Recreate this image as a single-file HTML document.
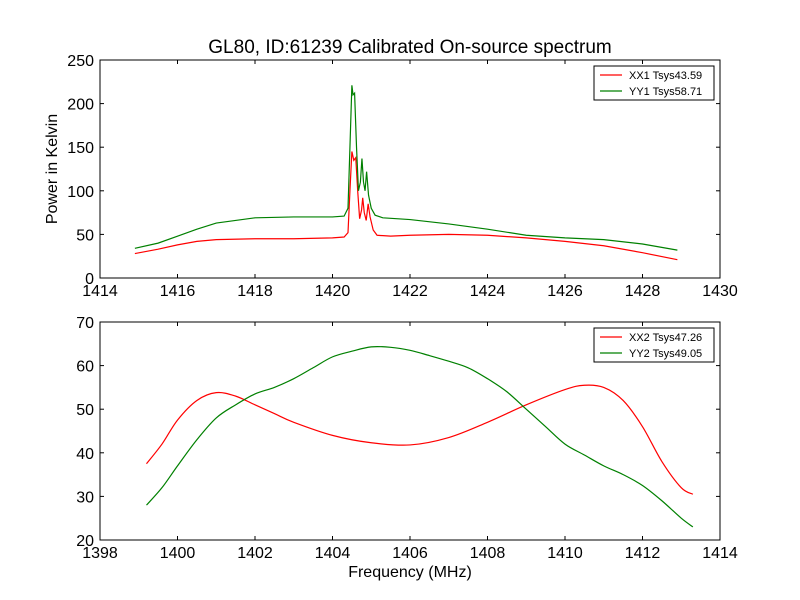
<!DOCTYPE html>
<html><head><meta charset="utf-8"><style>
body{margin:0;background:#fff;}
svg{display:block;font-family:"Liberation Sans",sans-serif;}
</style></head><body>
<svg id="chart" width="800" height="600" viewBox="0 0 800 600"></svg>
<script>
const xx1Freq=[1414.9,1415.5,1416,1416.5,1417,1418,1419,1420,1420.3,1420.4,1420.45,1420.5,1420.55,1420.6,1420.65,1420.7,1420.75,1420.78,1420.82,1420.87,1420.92,1420.97,1421.05,1421.15,1421.5,1422,1423,1424,1425,1426,1427,1428,1428.9];
const xx1Vals=[28,33,38,42,44,45,45,46,47,52,100,145,135,138,100,68,78,92,75,66,85,70,55,49,48,49,50,49,46,42,37,29,21];
const yy1Freq=[1414.9,1415.5,1416,1416.5,1417,1418,1419,1420,1420.3,1420.4,1420.45,1420.5,1420.53,1420.57,1420.62,1420.67,1420.72,1420.76,1420.8,1420.84,1420.88,1420.93,1421,1421.1,1421.3,1422,1423,1424,1425,1426,1427,1428,1428.9];
const yy1Vals=[34,40,48,56,63,69,70,70,71,80,150,221,210,212,150,100,110,137,110,100,122,95,80,72,69,67,62,56,49,46,44,39,32];
const xx2Freq=[1399.2,1399.6,1400,1400.5,1401,1401.5,1402,1402.5,1403,1404,1405,1406,1407,1408,1409,1410,1410.5,1411,1411.5,1412,1412.5,1413,1413.3];
const xx2Vals=[37.5,42,47.5,52,53.8,53,51,49,47,44,42.3,41.8,43.5,47,51,54.5,55.5,55,52,46,38,32,30.5];
const yy2Freq=[1399.2,1399.6,1400,1400.5,1401,1401.5,1402,1402.5,1403,1403.5,1404,1404.5,1405,1405.5,1406,1406.5,1407,1407.5,1408,1408.5,1409,1409.5,1410,1410.5,1411,1411.5,1412,1412.5,1413,1413.3];
const yy2Vals=[28,32,37,43,48,51,53.5,55,57,59.5,62,63.3,64.3,64.2,63.5,62.3,61,59.5,57,54,50,46,42,39.5,37,35,32.5,29,25,23];
const topXTicks=[1414,1416,1418,1420,1422,1424,1426,1428,1430];
const topYTicks=[0,50,100,150,200,250];
const botXTicks=[1398,1400,1402,1404,1406,1408,1410,1412,1414];
const botYTicks=[20,30,40,50,60,70];

const svg=document.getElementById('chart');
const NS='http://www.w3.org/2000/svg';
function mk(tag,attrs,parent){const e=document.createElementNS(NS,tag);for(const k in attrs)e.setAttribute(k,attrs[k]);(parent||svg).appendChild(e);return e;}
function smoothPath(pts){
  let d='M'+pts[0][0].toFixed(2)+' '+pts[0][1].toFixed(2);
  for(let i=0;i<pts.length-1;i++){
    const p0=pts[Math.max(0,i-1)],p1=pts[i],p2=pts[i+1],p3=pts[Math.min(pts.length-1,i+2)];
    const c1=[p1[0]+(p2[0]-p0[0])/6,p1[1]+(p2[1]-p0[1])/6];
    const c2=[p2[0]-(p3[0]-p1[0])/6,p2[1]-(p3[1]-p1[1])/6];
    d+=' C'+c1[0].toFixed(2)+' '+c1[1].toFixed(2)+' '+c2[0].toFixed(2)+' '+c2[1].toFixed(2)+' '+p2[0].toFixed(2)+' '+p2[1].toFixed(2);
  }
  return d;
}

function panel(name,L,T,R,B,x0,x1,y0,y1,xt,yt,series,legend,ylabel,xlabel,smooth){
  const g=mk('g',{});
  
  
  const sx=v=>L+(v-x0)/(x1-x0)*(R-L);
  const sy=v=>B-(v-y0)/(y1-y0)*(B-T);
  series.forEach(s=>{
    const pts=s.f.map((f,i)=>[sx(f),sy(s.v[i])]);
    const d=smooth?smoothPath(pts):pts.map((p,i)=>(i?'L':'M')+p[0].toFixed(2)+' '+p[1].toFixed(2)).join(' ');
    const p=mk('path',{d:d,fill:'none',stroke:s.c,'stroke-width':1.2},g);
    
    
  });
  const fr=mk('rect',{x:L,y:T,width:R-L,height:B-T,fill:'none',stroke:'#000','stroke-width':1},g);
  
  
  xt.forEach(v=>{
    const x=sx(v);
    mk('line',{x1:x,y1:B,x2:x,y2:B-4,stroke:'#000'},g);
    mk('line',{x1:x,y1:T,x2:x,y2:T+4,stroke:'#000'},g);
    const t=mk('text',{x:x,y:B+18,'text-anchor':'middle','font-size':16},g);
    t.textContent=v;
    
    
  });
  yt.forEach(v=>{
    const y=sy(v);
    mk('line',{x1:L,y1:y,x2:L+4,y2:y,stroke:'#000'},g);
    mk('line',{x1:R,y1:y,x2:R-4,y2:y,stroke:'#000'},g);
    const t=mk('text',{x:L-6,y:y+6,'text-anchor':'end','font-size':16},g);
    t.textContent=v;
    
    
  });
  const lg=mk('g',{},g);
  
  
  mk('rect',{x:594,y:T+6,width:120,height:34,fill:'#fff',stroke:'#000'},lg);
  legend.forEach((l,i)=>{
    const y=T+15+i*16;
    mk('line',{x1:600,y1:y,x2:622,y2:y,stroke:l.c,'stroke-width':1.2},lg);
    const t=mk('text',{x:629,y:y+4,'font-size':11},lg);
    t.textContent=l.t;
    
    
  });
  if(ylabel){const t=mk('text',{x:0,y:0,'font-size':16,'text-anchor':'middle',transform:'translate(57,'+((T+B)/2)+') rotate(-90)'},g);t.textContent=ylabel;
    
    }
  if(xlabel){const t=mk('text',{x:(L+R)/2,y:B+37,'font-size':16,'text-anchor':'middle'},g);t.textContent=xlabel;
    
    }
}
const title=mk('text',{x:410,y:53,'font-size':19,'text-anchor':'middle'});
title.textContent='GL80, ID:61239 Calibrated On-source spectrum';


panel('top',100,60,720,278,1414,1430,0,250,topXTicks,topYTicks,
  [{f:xx1Freq,v:xx1Vals,c:'#ff0000',n:'xx1'},{f:yy1Freq,v:yy1Vals,c:'#008000',n:'yy1'}],
  [{c:'#ff0000',t:'XX1 Tsys43.59'},{c:'#008000',t:'YY1 Tsys58.71'}],'Power in Kelvin',null,false);
panel('bottom',100,322,720,540,1398,1414,20,70,botXTicks,botYTicks,
  [{f:xx2Freq,v:xx2Vals,c:'#ff0000',n:'xx2'},{f:yy2Freq,v:yy2Vals,c:'#008000',n:'yy2'}],
  [{c:'#ff0000',t:'XX2 Tsys47.26'},{c:'#008000',t:'YY2 Tsys49.05'}],null,'Frequency (MHz)',true);
</script>
</body></html>
